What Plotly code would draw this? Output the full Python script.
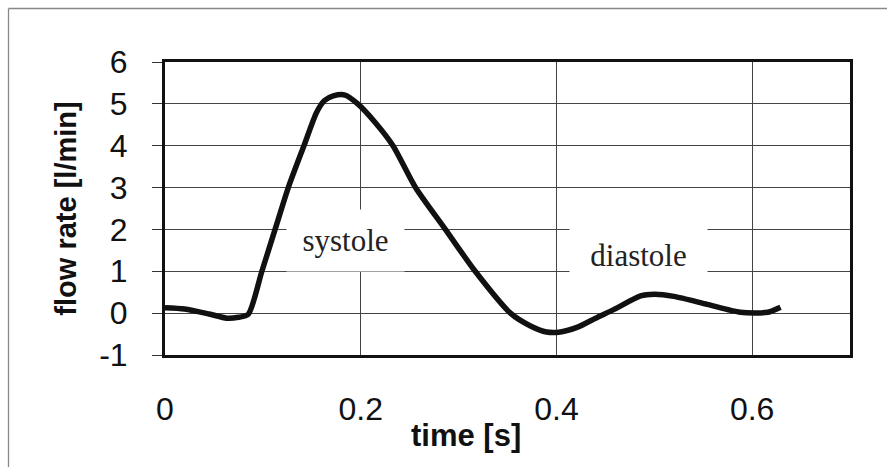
import plotly.graph_objects as go

# time [s]
time_s = [0.0, 0.02, 0.045, 0.063, 0.075, 0.085, 0.099, 0.1125, 0.126, 0.142, 0.155,
          0.163, 0.172, 0.184, 0.197, 0.215, 0.233, 0.256, 0.2865, 0.317,
          0.353, 0.373, 0.39, 0.404, 0.421, 0.44, 0.459, 0.486, 0.5, 0.52, 0.554,
          0.588, 0.616, 0.629]
# flow rate [l/min]
flow = [0.13, 0.1, -0.02, -0.12, -0.1, -0.03, 1.0, 2.0, 3.0, 4.0, 4.8,
        5.08, 5.19, 5.21, 5.0, 4.55, 4.0, 3.0, 2.0, 1.0,
        0.0, -0.3, -0.45, -0.45, -0.34, -0.12, 0.09, 0.41, 0.45, 0.4, 0.21,
        0.02, 0.02, 0.14]

x_ticks = [0, 0.2, 0.4, 0.6]
x_tick_labels = ["0", "0.2", "0.4", "0.6"]
y_ticks = [-1, 0, 1, 2, 3, 4, 5, 6]
y_tick_labels = ["-1", "0", "1", "2", "3", "4", "5", "6"]

phase_labels = ["systole", "diastole"]
phase_x = [0.184, 0.484]
phase_y = [1.74, 1.38]

W, H = 895, 467
ML, MR, MT, MB = 165, 45, 62, 112
PW, PH = W - ML - MR, H - MT - MB

def px_x(p):
    return (p - ML) / PW

def px_y(p):
    return (H - MB - p) / PH

fig = go.Figure()
fig.add_trace(go.Scatter(
    x=time_s, y=flow, mode="lines",
    line=dict(color="#111111", width=5.5, shape="spline", smoothing=0.7),
    showlegend=False, hoverinfo="x+y",
))

sans = "Liberation Sans, Arial, sans-serif"
serif = "Liberation Serif, Times New Roman, serif"

fig.update_xaxes(
    range=[0, 0.7], tickvals=x_ticks, ticktext=x_tick_labels,
    showgrid=True, gridcolor="#444444", gridwidth=1.3,
    zeroline=False, ticks="", showline=True, linecolor="#111111", linewidth=3,
    mirror=True, tickfont=dict(family=sans, size=32, color="#111111"),
    ticklabelstandoff=24,
)
fig.update_yaxes(
    range=[-1, 6], tickvals=y_ticks, ticktext=y_tick_labels,
    showgrid=True, gridcolor="#444444", gridwidth=1.3,
    zeroline=False, ticks="outside", ticklen=10, tickcolor="#333333", tickwidth=1.3,
    showline=True, linecolor="#111111", linewidth=3, mirror=True,
    tickfont=dict(family=sans, size=32, color="#111111"),
    ticklabelstandoff=18,
    title=dict(text="<b>flow rate [l/min]</b>", font=dict(family=sans, size=29, color="#111111"),
               standoff=14),
)

annotations = []
boxes = [(115, 59), (135, 60)]
for lab, xv, yv, (bw, bh) in zip(phase_labels, phase_x, phase_y, boxes):
    annotations.append(dict(
        x=xv, y=yv, xref="x", yref="y", text=lab, showarrow=False,
        font=dict(family=serif, size=31, color="#222222"),
        bgcolor="white", width=bw, height=bh, align="center", valign="middle",
    ))
annotations.append(dict(
    x=px_x(466), y=px_y(436), xref="paper", yref="paper",
    text="<b>time [s]</b>", showarrow=False,
    font=dict(family=sans, size=31, color="#111111"),
    xanchor="center", yanchor="middle",
))

shapes = [
    dict(type="line", xref="paper", yref="paper", x0=px_x(8.5), x1=px_x(887),
         y0=px_y(8.5), y1=px_y(8.5), line=dict(color="#888888", width=1.3), layer="below"),
    dict(type="line", xref="paper", yref="paper", x0=px_x(8.5), x1=px_x(8.5),
         y0=px_y(8.5), y1=px_y(467), line=dict(color="#888888", width=1.3), layer="below"),
]

fig.update_layout(
    width=W, height=H,
    margin=dict(l=ML, r=MR, t=MT, b=MB, autoexpand=False),
    paper_bgcolor="white", plot_bgcolor="white",
    annotations=annotations, shapes=shapes,
)

fig.write_html("out.html")
